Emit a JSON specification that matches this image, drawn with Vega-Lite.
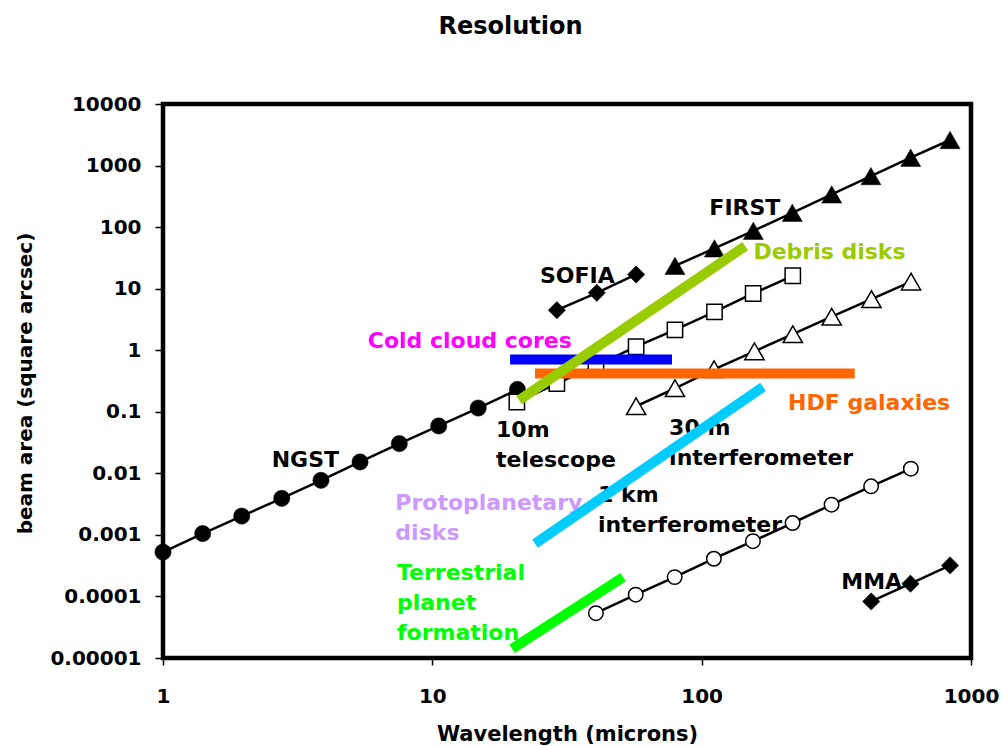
{
  "$schema": "https://vega.github.io/schema/vega-lite/v6.json",
  "width": 808,
  "height": 554,
  "autosize": {"type": "none"},
  "padding": {"left": 163, "top": 104, "right": 30, "bottom": 88},
  "background": "white",
  "title": {"text": "Resolution", "anchor": "middle", "frame": "group", "dx": -56.5, "offset": 36, "baseline": "alphabetic", "font": "DejaVu Sans", "fontSize": 24, "fontWeight": "bold", "color": "black"},
  "config": {
    "view": {"stroke": "black", "strokeWidth": 4.5},
    "axis": {"domain": false, "grid": false, "tickColor": "black", "tickWidth": 1.5, "labelColor": "black", "labelFont": "DejaVu Sans", "labelFontSize": 20, "labelFontWeight": "bold", "labelFlush": false, "labelOverlap": false, "labelBound": false, "titleFont": "DejaVu Sans", "titleFontWeight": "bold", "titleColor": "black"}
  },
  "datasets": {
    "series": [
      {"instrument": "NGST", "wavelength": 1, "area": 0.000525},
      {"instrument": "NGST", "wavelength": 1.404, "area": 0.00105},
      {"instrument": "NGST", "wavelength": 1.96, "area": 0.00202},
      {"instrument": "NGST", "wavelength": 2.76, "area": 0.00392},
      {"instrument": "NGST", "wavelength": 3.86, "area": 0.00769},
      {"instrument": "NGST", "wavelength": 5.39, "area": 0.0153},
      {"instrument": "NGST", "wavelength": 7.54, "area": 0.0304},
      {"instrument": "NGST", "wavelength": 10.56, "area": 0.0588},
      {"instrument": "NGST", "wavelength": 14.8, "area": 0.115},
      {"instrument": "NGST", "wavelength": 20.7, "area": 0.23},
      {"instrument": "10m telescope", "wavelength": 20.6, "area": 0.144},
      {"instrument": "10m telescope", "wavelength": 29.0, "area": 0.287},
      {"instrument": "10m telescope", "wavelength": 40.5, "area": 0.56},
      {"instrument": "10m telescope", "wavelength": 57.1, "area": 1.14},
      {"instrument": "10m telescope", "wavelength": 79.6, "area": 2.14},
      {"instrument": "10m telescope", "wavelength": 111.6, "area": 4.2},
      {"instrument": "10m telescope", "wavelength": 155.3, "area": 8.35},
      {"instrument": "10m telescope", "wavelength": 217.9, "area": 16.2},
      {"instrument": "FIRST", "wavelength": 79.6, "area": 23.5},
      {"instrument": "FIRST", "wavelength": 111.5, "area": 45.1},
      {"instrument": "FIRST", "wavelength": 155.5, "area": 87.1},
      {"instrument": "FIRST", "wavelength": 217, "area": 170.8},
      {"instrument": "FIRST", "wavelength": 304, "area": 340},
      {"instrument": "FIRST", "wavelength": 425, "area": 675},
      {"instrument": "FIRST", "wavelength": 597, "area": 1340},
      {"instrument": "FIRST", "wavelength": 836, "area": 2600},
      {"instrument": "SOFIA", "wavelength": 29.0, "area": 4.47},
      {"instrument": "SOFIA", "wavelength": 40.8, "area": 8.55},
      {"instrument": "SOFIA", "wavelength": 57.1, "area": 17.0},
      {"instrument": "30m interferometer", "wavelength": 57.1, "area": 0.123},
      {"instrument": "30m interferometer", "wavelength": 79.6, "area": 0.241},
      {"instrument": "30m interferometer", "wavelength": 111.2, "area": 0.49},
      {"instrument": "30m interferometer", "wavelength": 157, "area": 0.96},
      {"instrument": "30m interferometer", "wavelength": 218, "area": 1.82},
      {"instrument": "30m interferometer", "wavelength": 304, "area": 3.5},
      {"instrument": "30m interferometer", "wavelength": 427, "area": 6.75},
      {"instrument": "30m interferometer", "wavelength": 599, "area": 13.0},
      {"instrument": "1km interferometer", "wavelength": 40.5, "area": 0.0000535},
      {"instrument": "1km interferometer", "wavelength": 56.9, "area": 0.000107},
      {"instrument": "1km interferometer", "wavelength": 79.4, "area": 0.000206},
      {"instrument": "1km interferometer", "wavelength": 111, "area": 0.00041},
      {"instrument": "1km interferometer", "wavelength": 155, "area": 0.00079},
      {"instrument": "1km interferometer", "wavelength": 217.6, "area": 0.00156},
      {"instrument": "1km interferometer", "wavelength": 303.6, "area": 0.0031},
      {"instrument": "1km interferometer", "wavelength": 425.7, "area": 0.00615},
      {"instrument": "1km interferometer", "wavelength": 598, "area": 0.0119},
      {"instrument": "MMA", "wavelength": 426, "area": 0.000083},
      {"instrument": "MMA", "wavelength": 596, "area": 0.000161},
      {"instrument": "MMA", "wavelength": 836, "area": 0.000319}
    ],
    "regions": [
      {"region": "Cold cloud cores", "wavelength": 19.44, "area": 0.709},
      {"region": "Cold cloud cores", "wavelength": 77.6, "area": 0.709},
      {"region": "HDF galaxies", "wavelength": 24.06, "area": 0.418},
      {"region": "HDF galaxies", "wavelength": 370, "area": 0.418},
      {"region": "Debris disks", "wavelength": 21.0, "area": 0.154},
      {"region": "Debris disks", "wavelength": 145, "area": 49.1},
      {"region": "Protoplanetary disks", "wavelength": 24.06, "area": 0.00072},
      {"region": "Protoplanetary disks", "wavelength": 169, "area": 0.253},
      {"region": "Terrestrial planet formation", "wavelength": 19.77, "area": 0.0000141},
      {"region": "Terrestrial planet formation", "wavelength": 51.1, "area": 0.000206}
    ],
    "labels": [
      {"label": "NGST", "group": "black", "wavelength": 2.533, "area": 0.01266},
      {"label": "SOFIA", "group": "black", "wavelength": 25.1, "area": 12.43},
      {"label": "FIRST", "group": "black", "wavelength": 106.8, "area": 156.7},
      {"label": "MMA", "group": "black", "wavelength": 330, "area": 0.0001334},
      {"label": "10m\ntelescope", "group": "black", "wavelength": 17.24, "area": 0.0392},
      {"label": "30 m\ninterferometer", "group": "black", "wavelength": 75.7, "area": 0.0423},
      {"label": "1 km\ninterferometer", "group": "black", "wavelength": 41.24, "area": 0.003414},
      {"label": "Debris disks", "group": "debris", "wavelength": 155.6, "area": 29.85},
      {"label": "Cold cloud cores", "group": "cold", "wavelength": 5.76, "area": 1.106},
      {"label": "HDF galaxies", "group": "hdf", "wavelength": 209.4, "area": 0.1058},
      {"label": "Protoplanetary\ndisks", "group": "proto", "wavelength": 7.29, "area": 0.002502},
      {"label": "Terrestrial\nplanet\nformation", "group": "terr", "wavelength": 7.39, "area": 0.000182}
    ]
  },
  "encoding": {
    "x": {"field": "wavelength", "type": "quantitative", "scale": {"type": "log", "domain": [1, 1000], "nice": false},
      "axis": {"title": "Wavelength (microns)", "values": [1, 10, 100, 1000], "format": "d", "tickSize": 7, "labelPadding": 37, "labelBaseline": "alphabetic", "titleFontSize": 21, "titleX": 404, "titleY": 82, "titleBaseline": "alphabetic"}},
    "y": {"field": "area", "type": "quantitative", "scale": {"type": "log", "domain": [0.00001, 10000], "nice": false},
      "axis": {"title": "beam area (square arcsec)", "values": [0.00001, 0.0001, 0.001, 0.01, 0.1, 1, 10, 100, 1000, 10000], "format": "~f", "tickSize": 8, "labelPadding": 14, "titleFontSize": 20, "titleX": -132, "titleY": 279, "titleAngle": -90, "titleAlign": "center", "titleBaseline": "alphabetic"}}
  },
  "resolve": {"scale": {"color": "independent"}},
  "layer": [
    {"data": {"name": "series"}, "mark": {"type": "line", "color": "black", "strokeWidth": 2.5}, "encoding": {"detail": {"field": "instrument", "type": "nominal"}}},
    {"data": {"name": "series"}, "transform": [{"filter": "datum.instrument === 'NGST'"}], "mark": {"type": "point", "shape": "circle", "filled": true, "fill": "black", "stroke": "black", "strokeWidth": 0.5, "size": 265, "opacity": 1}},
    {"data": {"name": "series"}, "transform": [{"filter": "datum.instrument === '10m telescope'"}], "mark": {"type": "point", "shape": "square", "filled": true, "fill": "white", "stroke": "black", "strokeWidth": 1.5, "size": 235, "opacity": 1}},
    {"data": {"name": "series"}, "transform": [{"filter": "datum.instrument === 'FIRST'"}], "mark": {"type": "point", "shape": "triangle-up", "filled": true, "fill": "black", "stroke": "black", "strokeWidth": 0.5, "size": 400, "opacity": 1}},
    {"data": {"name": "series"}, "transform": [{"filter": "datum.instrument === '30m interferometer'"}], "mark": {"type": "point", "shape": "triangle-up", "filled": true, "fill": "white", "stroke": "black", "strokeWidth": 1.5, "size": 370, "opacity": 1}},
    {"data": {"name": "series"}, "transform": [{"filter": "datum.instrument === '1km interferometer'"}], "mark": {"type": "point", "shape": "circle", "filled": true, "fill": "white", "stroke": "black", "strokeWidth": 1.5, "size": 210, "opacity": 1}},
    {"data": {"name": "series"}, "transform": [{"filter": "datum.instrument === 'SOFIA' || datum.instrument === 'MMA'"}], "mark": {"type": "point", "shape": "diamond", "filled": true, "fill": "black", "stroke": "black", "strokeWidth": 0.5, "size": 300, "opacity": 1}},
    {"data": {"name": "labels"}, "mark": {"type": "text", "align": "left", "baseline": "alphabetic", "font": "DejaVu Sans", "fontWeight": "bold", "fontSize": 22, "lineBreak": "\n", "lineHeight": 30},
      "encoding": {"text": {"field": "label", "type": "nominal"},
        "color": {"field": "group", "type": "nominal", "scale": {"domain": ["black", "debris", "cold", "hdf", "proto", "terr"], "range": ["#000000", "#99CC00", "#FF00FF", "#FF6600", "#CC99FF", "#00FF00"]}, "legend": null}}},
    {"data": {"name": "regions"}, "mark": {"type": "line", "strokeWidth": 10, "strokeCap": "butt"},
      "encoding": {"color": {"field": "region", "type": "nominal", "scale": {"domain": ["Cold cloud cores", "HDF galaxies", "Debris disks", "Protoplanetary disks", "Terrestrial planet formation"], "range": ["#0000FF", "#FF6600", "#99CC00", "#00CCFF", "#00FF00"]}, "legend": null}}}
  ]
}
